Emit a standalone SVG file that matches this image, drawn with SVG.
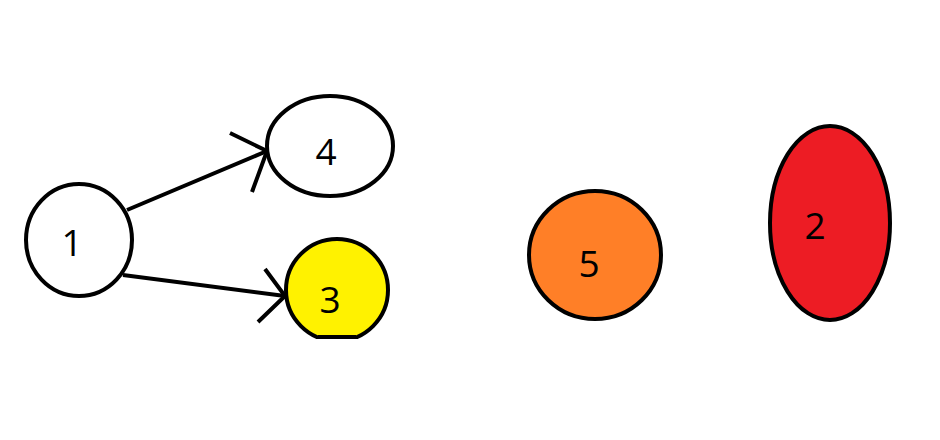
<svg xmlns="http://www.w3.org/2000/svg" width="940" height="440" viewBox="0 0 940 440">
<style>
.n{stroke:#000;stroke-width:4}
.t{font-family:"Open Sans","DejaVu Sans",sans-serif;font-size:37px;fill:#000;text-anchor:middle}
.e{fill:none;stroke:#000;stroke-width:4;stroke-linecap:butt;stroke-linejoin:miter}
</style>
<defs><clipPath id="c3"><rect x="0" y="0" width="940" height="339"/></clipPath></defs>
<rect width="940" height="440" fill="#fff"/>
<g id="edges">
<path class="e" d="M127,210 L267,151"/>
<path class="e" d="M230,133 L267,151 L252,192"/>
<path class="e" d="M123,275 L285,296"/>
<path class="e" d="M265,269 L285,296 L258,322"/>
</g>
<g id="node1"><ellipse class="n" cx="79" cy="240" rx="53" ry="56" fill="#fff"/><text class="t" x="72" y="256">1</text></g>
<g id="node4"><ellipse class="n" cx="330" cy="146" rx="63" ry="50" fill="#fff"/><text class="t" x="326" y="165">4</text></g>
<g id="node3"><g clip-path="url(#c3)"><circle class="n" cx="337" cy="290" r="51" fill="#FFF200"/></g><line x1="318" y1="337" x2="356" y2="337" stroke="#000" stroke-width="4"/><text class="t" x="330" y="313">3</text></g>
<g id="node5"><ellipse class="n" cx="595" cy="255" rx="66" ry="64" fill="#FF7F27"/><text class="t" x="589" y="277">5</text></g>
<g id="node2"><ellipse class="n" cx="830" cy="223" rx="60" ry="97" fill="#ED1C24"/><text class="t" x="815" y="239">2</text></g>
</svg>
